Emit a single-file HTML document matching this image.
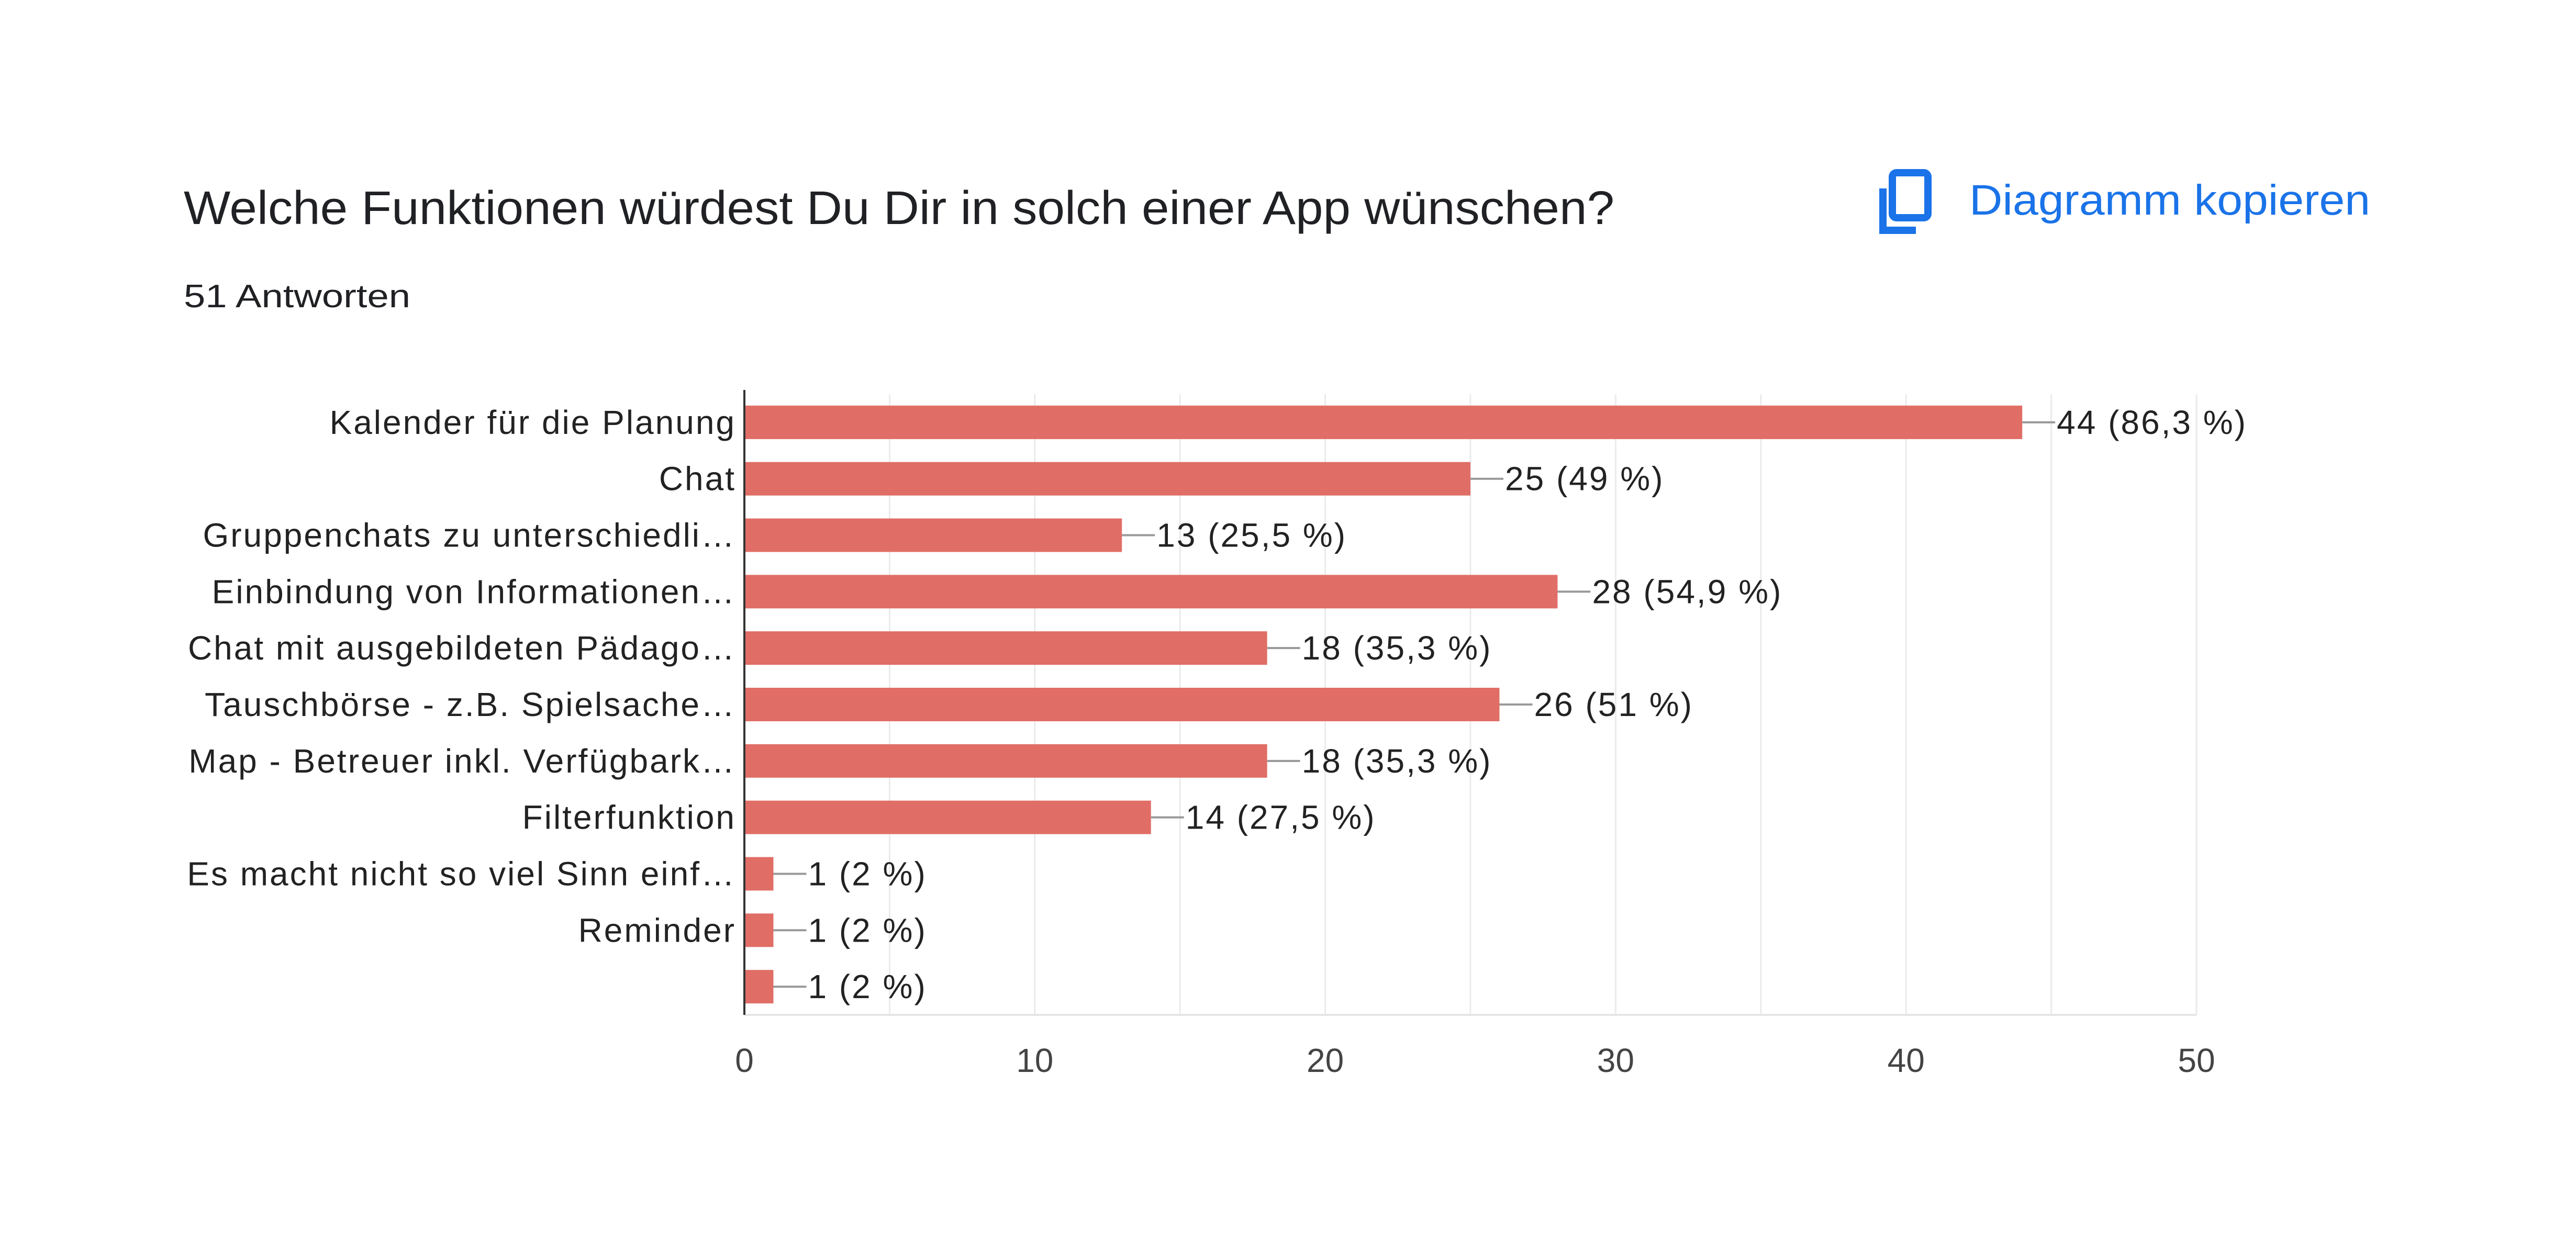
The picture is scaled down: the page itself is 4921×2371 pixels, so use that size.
<!DOCTYPE html>
<html><head><meta charset="utf-8"><style>
html,body{margin:0;padding:0;background:#fff;}
body{width:4921px;height:2366px;overflow:hidden;position:relative;font-family:"Liberation Sans",Arial,sans-serif;}
</style></head><body>
<svg width="4921" height="2366" xmlns="http://www.w3.org/2000/svg">
<text x="351" y="428" font-size="90" textLength="2733" lengthAdjust="spacingAndGlyphs" fill="#202124" font-family="Liberation Sans, sans-serif">Welche Funktionen würdest Du Dir in solch einer App wünschen?</text>
<text x="351" y="587" font-size="62" textLength="433" lengthAdjust="spacingAndGlyphs" fill="#202124" font-family="Liberation Sans, sans-serif">51 Antworten</text>
<g>
<rect x="3615" y="330" width="68" height="86" rx="8" fill="none" stroke="#1a73e8" stroke-width="14"/>
<path d="M3597 360 V440 H3660" fill="none" stroke="#1a73e8" stroke-width="14"/>
<text x="3762" y="410" font-size="82" textLength="766" lengthAdjust="spacingAndGlyphs" fill="#1a73e8" font-family="Liberation Sans, sans-serif">Diagramm kopieren</text>
</g>
<g id="plot"></g>
</svg>
<script>
const categories=["Kalender für die Planung","Chat","Gruppenchats zu unterschiedli…","Einbindung von Informationen…","Chat mit ausgebildeten Pädago…","Tauschbörse - z.B. Spielsache…","Map - Betreuer inkl. Verfügbark…","Filterfunktion","Es macht nicht so viel Sinn einf…","Reminder",""];
const values=[44,25,13,28,18,26,18,14,1,1,1];
const percents=["86,3","49","25,5","54,9","35,3","51","35,3","27,5","2","2","2"];
const ticks=[0,10,20,30,40,50];
const NS="http://www.w3.org/2000/svg";
const g=document.getElementById('plot');
const X0=1422,X1=4196,XMAX=50,YT=753,YB=1939;
const x=v=>X0+(X1-X0)*v/XMAX;
const band=(YB-YT)/categories.length;
const yc=i=>YT+band*(i+0.5);
function el(t,a){const e=document.createElementNS(NS,t);for(const k in a)e.setAttribute(k,a[k]);g.appendChild(e);return e;}
for(let v=0;v<=XMAX;v+=5){const l=el('line',{x1:x(v),x2:x(v),y1:YT,y2:YB,stroke:'#ebebeb','stroke-width':3});

}
const bl=el('line',{x1:X0,x2:X1,y1:YB,y2:YB,stroke:'#e6e6e6','stroke-width':4});


ticks.forEach(t=>{const e=el('text',{x:x(t),y:2048,'font-size':64,fill:'#444','text-anchor':'middle'});e.textContent=t;

});
categories.forEach((c,i)=>{
const cy=yc(i);
const r=el('rect',{x:X0,y:cy-32,width:x(values[i])-X0,height:64,fill:'#e06e66'});


const ln=el('line',{x1:x(values[i]),x2:x(values[i])+63,y1:cy,y2:cy,stroke:'#999','stroke-width':4});


const vt=el('text',{x:x(values[i])+66,y:cy+22,'font-size':64,'letter-spacing':3,fill:'#222'});
vt.textContent=values[i]+" ("+percents[i]+" %)";


const ct=el('text',{x:1406,y:cy+22,'font-size':64,'letter-spacing':3,fill:'#222','text-anchor':'end'});
ct.textContent=c;


});
const ax=el('line',{x1:X0,x2:X0,y1:YT-8,y2:YB,stroke:'#333','stroke-width':4});


</script>
</body></html>
